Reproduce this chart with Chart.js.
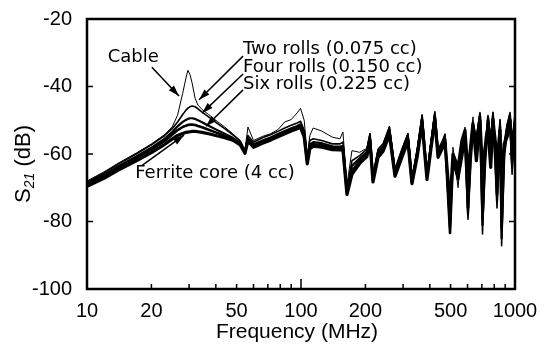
<!DOCTYPE html>
<html>
<head>
<meta charset="utf-8">
<script src="https://cdn.jsdelivr.net/npm/chart.js@4.4.1/dist/chart.umd.min.js"></script>
<style>
  html, body { margin: 0; padding: 0; background: #fff; }
</style>
</head>
<body>
<canvas id="chart" width="555" height="351"></canvas>
<script>
// frequency points (MHz) shared by all curves
const freq = [10, 12, 14, 17, 20, 23, 25, 26.5, 28, 29,
  29.6, 30.3, 31, 32, 33, 34.5, 37, 40, 44, 48,
  52, 54.7, 56.5, 60, 66, 72, 78, 84, 90, 96,
  99.5, 103.5, 107, 110, 114, 125, 140, 152, 157, 164,
  173, 188, 203, 210, 217, 229, 242, 259, 275, 296,
  316, 330, 350, 368, 388, 405, 422, 437, 455, 471,
  497, 513, 542, 565, 584, 603, 620, 636, 660, 686,
  705, 725, 748, 770, 789, 808, 824, 851, 866, 890,
  918, 948, 969, 1000];

// S21 in dB
const cable = [-68.0, -65.3, -62.7, -59.7, -57.0, -54.3, -52.0, -48.5, -42.0, -37.5,
  -35.2, -36.5, -39.0, -43.5, -45.5, -46.8, -48.3, -50.0, -52.0, -54.0,
  -56.0, -58.8, -52.0, -56.0, -54.8, -54.0, -52.8, -50.5, -49.8, -47.8,
  -46.5, -50.0, -60.5, -54.5, -52.3, -53.2, -55.0, -55.5, -53.5, -69.0,
  -59.0, -59.5, -58.3, -53.8, -66.0, -58.5, -56.8, -51.7, -64.3, -58.5,
  -53.8, -67.0, -58.0, -48.3, -65.5, -56.0, -47.4, -58.5, -57.0, -54.0,
  -80.0, -58.0, -70.0, -57.0, -52.0, -70.0, -56.0, -49.0, -60.0, -48.0,
  -70.0, -55.0, -50.0, -62.0, -47.5, -58.0, -66.0, -50.0, -75.0, -56.0,
  -51.0, -48.0, -60.0, -48.0];

const twoRolls = [-68.3, -65.6, -63.0, -60.0, -57.3, -54.6, -52.5, -50.5, -48.3, -47.0,
  -46.4, -46.0, -45.8, -46.0, -46.6, -47.6, -49.0, -50.6, -52.5, -54.3,
  -56.2, -59.0, -54.5, -56.5, -55.2, -54.3, -53.3, -52.3, -51.5, -50.8,
  -50.3, -53.0, -61.5, -56.0, -55.5, -56.0, -57.0, -57.0, -56.5, -70.5,
  -62.0, -60.5, -58.6, -54.0, -66.5, -58.7, -57.0, -52.0, -64.6, -58.7,
  -54.0, -67.2, -58.2, -48.5, -65.7, -56.3, -47.6, -58.7, -56.5, -54.2,
  -83.0, -61.5, -67.3, -60.0, -54.5, -79.3, -60.0, -50.7, -55.0, -47.7,
  -83.7, -60.0, -48.6, -56.0, -47.7, -58.0, -76.0, -49.8, -87.2, -58.0,
  -51.5, -47.7, -66.0, -47.7];

const fourRolls = [-68.7, -66.1, -63.6, -60.7, -58.1, -55.5, -53.5, -51.8, -50.5, -49.9,
  -49.6, -49.4, -49.4, -49.6, -50.0, -50.6, -51.6, -52.7, -54.0, -55.2,
  -56.7, -59.4, -55.4, -57.2, -56.0, -55.1, -54.1, -53.2, -52.4, -51.7,
  -51.2, -54.0, -62.3, -57.2, -56.5, -56.8, -57.7, -57.8, -57.6, -71.2,
  -63.5, -61.3, -59.4, -54.8, -67.2, -59.5, -57.8, -52.8, -65.3, -59.5,
  -54.8, -67.8, -59.0, -49.3, -66.4, -57.0, -48.4, -59.5, -57.3, -55.0,
  -82.0, -61.0, -66.0, -59.0, -55.0, -78.0, -61.0, -51.5, -56.0, -48.5,
  -81.0, -61.0, -49.0, -57.0, -48.5, -60.0, -74.0, -51.0, -85.0, -59.0,
  -52.5, -48.5, -64.0, -49.0];

const sixRolls = [-69.1, -66.6, -64.1, -61.2, -58.7, -56.2, -54.3, -52.9, -52.0, -51.6,
  -51.4, -51.3, -51.3, -51.4, -51.7, -52.1, -52.8, -53.6, -54.6, -55.5,
  -57.0, -59.6, -55.8, -57.6, -56.4, -55.5, -54.5, -53.6, -52.8, -52.1,
  -51.7, -54.5, -62.6, -57.8, -57.1, -57.4, -58.2, -58.3, -58.2, -71.6,
  -65.0, -62.0, -60.0, -55.5, -67.8, -60.2, -58.5, -53.5, -66.0, -60.2,
  -55.5, -68.3, -59.7, -50.0, -67.0, -57.7, -49.1, -60.2, -58.0, -55.7,
  -83.4, -62.0, -67.5, -61.0, -55.5, -76.0, -62.0, -52.5, -57.0, -49.0,
  -79.0, -62.0, -50.0, -58.0, -49.5, -61.0, -72.0, -52.0, -82.0, -60.0,
  -53.5, -49.5, -62.0, -50.0];

const ferrite = [-69.6, -67.2, -64.8, -62.0, -59.6, -57.2, -55.6, -54.5, -53.9, -53.6,
  -53.5, -53.4, -53.3, -53.3, -53.4, -53.6, -54.0, -54.5, -55.2, -55.9,
  -57.3, -59.8, -56.2, -58.0, -56.8, -55.9, -54.9, -54.0, -53.2, -52.5,
  -52.1, -55.0, -62.9, -58.4, -57.7, -58.0, -58.7, -58.8, -58.8, -72.0,
  -66.0, -62.8, -60.8, -56.2, -68.3, -61.0, -59.2, -54.3, -66.6, -61.0,
  -56.3, -68.8, -60.4, -50.8, -67.6, -58.4, -49.9, -61.0, -58.7, -56.5,
  -75.0, -60.0, -64.0, -56.0, -53.0, -66.0, -58.0, -51.0, -62.0, -50.0,
  -65.0, -58.0, -53.0, -64.0, -50.0, -56.0, -62.0, -53.0, -70.0, -57.0,
  -55.0, -50.0, -58.0, -51.0];

const seriesNames = ['Cable', 'Two rolls (0.075 cc)', 'Four rolls (0.150 cc)', 'Six rolls (0.225 cc)', 'Ferrite core (4 cc)'];
const seriesValues = [cable, twoRolls, fourRolls, sixRolls, ferrite];
const lineWidths = [1, 1.6, 2.2, 2.6, 3.2];

const xTicks = [10, 20, 50, 100, 200, 500, 1000];
const xMinor = [20, 30, 40, 50, 60, 70, 80, 90, 100, 200, 300, 400, 500, 600, 700, 800, 900];
const yTicks = [-100, -80, -60, -40, -20];

// label text position + arrow start -> arrow tip, all in data units (MHz, dB)
const notes = [
  { text: 'Cable', tx: 12.5, ty: -31.4, fx: 20.1, fy: -34.3, ax: 26.9, ay: -42.8 },
  { text: 'Two rolls (0.075 cc)', tx: 53.6, ty: -29.1, fx: 53.6, fy: -31.0, ax: 33.4, ay: -43.9 },
  { text: 'Four rolls (0.150 cc)', tx: 53.6, ty: -34.4, fx: 53.6, fy: -36.3, ax: 34.5, ay: -47.9 },
  { text: 'Six rolls (0.225 cc)', tx: 53.6, ty: -39.3, fx: 53.6, fy: -41.0, ax: 36.0, ay: -51.8 },
  { text: 'Ferrite core (4 cc)', tx: 16.8, ty: -65.8, fx: 18.1, fy: -63.4, ax: 28.4, ay: -54.4 }
];

const FONT = "'Liberation Sans', Arial, Helvetica, sans-serif";

const decor = {
  id: 'decor',
  afterDraw(chart) {
    const { ctx, chartArea: a } = chart;
    const x = chart.scales.x, y = chart.scales.y;
    ctx.save();
    ctx.strokeStyle = '#000';
    ctx.fillStyle = '#000';

    // frame
    ctx.lineWidth = 2.5;
    ctx.strokeRect(a.left, a.top, a.right - a.left, a.bottom - a.top);

    // inward ticks
    ctx.lineWidth = 1.5;
    ctx.beginPath();
    xMinor.forEach(v => {
      const px = x.getPixelForValue(v);
      const len = v === 100 ? 10 : 5;
      ctx.moveTo(px, a.bottom);
      ctx.lineTo(px, a.bottom - len);
    });
    yTicks.forEach(v => {
      if (v === -100 || v === -20) return;
      const py = y.getPixelForValue(v);
      ctx.moveTo(a.left, py); ctx.lineTo(a.left + 6, py);
      ctx.moveTo(a.right, py); ctx.lineTo(a.right - 6, py);
    });
    ctx.stroke();

    // annotations with arrows
    ctx.font = "18px 'DejaVu Sans', sans-serif";
    ctx.textBaseline = 'middle';
    ctx.textAlign = 'left';
    notes.forEach(n => {
      ctx.fillText(n.text, x.getPixelForValue(n.tx), y.getPixelForValue(n.ty));
      const x0 = x.getPixelForValue(n.fx), y0 = y.getPixelForValue(n.fy);
      const x1 = x.getPixelForValue(n.ax), y1 = y.getPixelForValue(n.ay);
      ctx.lineWidth = 1.5;
      ctx.beginPath();
      ctx.moveTo(x0, y0);
      ctx.lineTo(x1, y1);
      ctx.stroke();
      const ang = Math.atan2(y1 - y0, x1 - x0);
      const L = 11, W = 3.5;
      ctx.beginPath();
      ctx.moveTo(x1, y1);
      ctx.lineTo(x1 - L * Math.cos(ang) + W * Math.sin(ang), y1 - L * Math.sin(ang) - W * Math.cos(ang));
      ctx.lineTo(x1 - L * Math.cos(ang) - W * Math.sin(ang), y1 - L * Math.sin(ang) + W * Math.cos(ang));
      ctx.closePath();
      ctx.fill();
    });

    // x title
    ctx.font = '21px ' + FONT;
    ctx.textAlign = 'center';
    ctx.fillText('Frequency (MHz)', (a.left + a.right) / 2 - 4, 332);

    // y title with subscript
    ctx.translate(24, (a.top + a.bottom) / 2 + 10);
    ctx.rotate(-Math.PI / 2);
    ctx.textAlign = 'left';
    const big = '22px ' + FONT, small = 'italic 14px ' + FONT;
    ctx.font = big; const wS = ctx.measureText('S').width;
    ctx.font = small; const w21 = ctx.measureText('21').width;
    ctx.font = big; const wDb = ctx.measureText(' (dB)').width;
    let cx = -(wS + w21 + wDb) / 2;
    ctx.font = big; ctx.fillText('S', cx, 0); cx += wS;
    ctx.font = small; ctx.fillText('21', cx, 6); cx += w21;
    ctx.font = big; ctx.fillText(' (dB)', cx, 0);
    ctx.restore();
  }
};

new Chart(document.getElementById('chart'), {
  type: 'line',
  data: {
    datasets: seriesNames.map((name, i) => ({
      label: name,
      data: freq.map((f, k) => ({ x: f, y: seriesValues[i][k] })),
      borderColor: '#000',
      borderWidth: lineWidths[i],
      borderJoinStyle: 'round',
      pointRadius: 0,
      tension: 0,
      fill: false
    }))
  },
  options: {
    responsive: false,
    animation: false,
    devicePixelRatio: 1,
    layout: { padding: { top: 15, right: 40, left: 0, bottom: 0 } },
    plugins: { legend: { display: false }, tooltip: { enabled: false } },
    scales: {
      x: {
        type: 'logarithmic',
        min: 10,
        max: 1000,
        afterBuildTicks: s => { s.ticks = xTicks.map(v => ({ value: v })); },
        afterFit: s => { s.height = 62; },
        grid: { display: false },
        border: { display: false },
        ticks: {
          autoSkip: false,
          maxRotation: 0,
          padding: 2,
          color: '#000',
          font: { family: FONT, size: 20 },
          callback: v => String(v)
        }
      },
      y: {
        min: -100,
        max: -20,
        afterBuildTicks: s => { s.ticks = yTicks.map(v => ({ value: v })); },
        afterFit: s => { s.width = 87; },
        grid: { display: false },
        border: { display: false },
        ticks: {
          padding: 7,
          color: '#000',
          font: { family: FONT, size: 20 }
        }
      }
    }
  },
  plugins: [decor]
});
</script>
</body>
</html>
